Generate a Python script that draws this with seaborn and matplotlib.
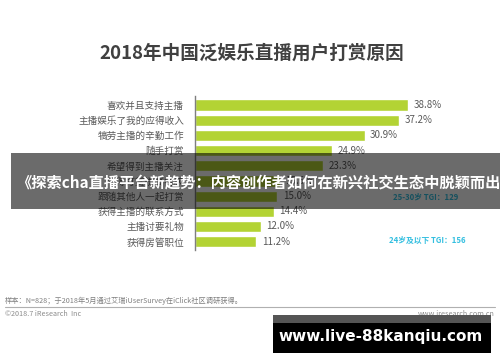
import matplotlib
matplotlib.use("Agg")
import matplotlib.pyplot as plt
import seaborn as sns
import pandas as pd
from matplotlib.patches import Rectangle
from matplotlib.lines import Line2D

categories = ["喜欢并且支持主播", "主播娱乐了我的应得收入", "犒劳主播的辛勤工作", "随手打赏",
              "希望得到主播关注", "夺得打赏榜高名次", "跟随其他人一起打赏", "获得主播的联系方式",
              "主播讨要礼物", "获得房管职位"]
values = [38.8, 37.2, 30.9, 24.9, 23.3, 15.5, 15.0, 14.4, 12.0, 11.2]
value_labels = ["38.8%", "37.2%", "30.9%", "24.9%", "23.3%", "15.5%", "15.0%", "14.4%", "12.0%", "11.2%"]

sns.set_theme(style="white")
plt.rcParams['font.family'] = ['Noto Sans CJK SC', 'DejaVu Sans']

W, H = 500, 362
fig = plt.figure(figsize=(5, 3.62), dpi=100)
fig.patch.set_facecolor("white")

ax = fig.add_axes([195 / W, 1 - 250 / H, 295 / W, 154 / H])
df = pd.DataFrame({"cat": categories, "val": values})
sns.barplot(data=df, x="val", y="cat", orient="h", color="#b3d334", saturation=1,
            width=0.74, ax=ax)
ax.set_xlim(0, 295 / 5.49)
ax.set_ylim(9.55, -0.6)
ax.set_xlabel("")
ax.set_ylabel("")
ax.set_xticks([])
for s in ["top", "right", "bottom"]:
    ax.spines[s].set_visible(False)
ax.spines["left"].set_color("#7f7f7f")
ax.spines["left"].set_linewidth(1.0)
ax.tick_params(axis="y", length=0, pad=8, labelsize=6.9, labelcolor="#595959")
ax.set_facecolor("none")
for i, (v, lab) in enumerate(zip(values, value_labels)):
    ax.text(v + 1.0, i, lab, va="center", ha="left", fontsize=7, color="#595959")

# Title
fig.text(252 / W, 1 - 53 / H, "2018年中国泛娱乐直播用户打赏原因", ha="center", va="center",
         fontsize=13.4, fontweight="bold", color="#404040")

# TGI notes
fig.text(393 / W, 1 - 197 / H, "25-30岁 TGI：129", ha="left", va="center", fontsize=5.6,
         fontweight="bold", color="#33bfe0", zorder=1)
fig.text(389 / W, 1 - 240 / H, "24岁及以下 TGI：156", ha="left", va="center", fontsize=5.6,
         fontweight="bold", color="#33bfe0", zorder=1)

# Footer
fig.text(5 / W, 1 - 301 / H, "样本：N=828；于2018年5月通过艾瑞iUserSurvey在iClick社区调研获得。",
         ha="left", va="center", fontsize=5.2, color="#7f7f7f")
fig.add_artist(Line2D([5 / W, 495 / W], [1 - 307 / H, 1 - 307 / H], color="#b0b0b0", lw=0.8))
fig.text(5 / W, 1 - 314 / H, "©2018.7 iResearch  Inc", ha="left", va="center", fontsize=5.2,
         color="#8c8c8c")
fig.text(495 / W, 1 - 314 / H, "www.iresearch.com.cn", ha="right", va="center", fontsize=5.2,
         color="#8c8c8c")

# Overlay banner
fig.add_artist(Rectangle((11 / W, 1 - 209 / H), (W - 11) / W, 56 / H, transform=fig.transFigure,
                         facecolor="black", alpha=0.58, edgecolor="none", zorder=5))
fig.text(16 / W, 1 - 183 / H, "《探索cha直播平台新趋势：内容创作者如何在新兴社交生态中脱颖而出》",
         ha="left", va="center", fontsize=11.0, fontweight="bold", color="white", zorder=6)

# Watermark box
fig.add_artist(Rectangle((273 / W, 1 - 323 / H), 218 / W, 8 / H, transform=fig.transFigure,
                         facecolor="#555555", edgecolor="none", zorder=5))
fig.add_artist(Rectangle((273 / W, 1 - 353 / H), 218 / W, 30 / H, transform=fig.transFigure,
                         facecolor="black", edgecolor="none", zorder=5))
fig.text(381 / W, 1 - 337 / H, "www.live-88kanqiu.com", ha="center", va="center",
         fontsize=11.0, fontweight="bold", color="white", zorder=6,
         family=["DejaVu Sans"])

fig.savefig("out.png", dpi=100)
